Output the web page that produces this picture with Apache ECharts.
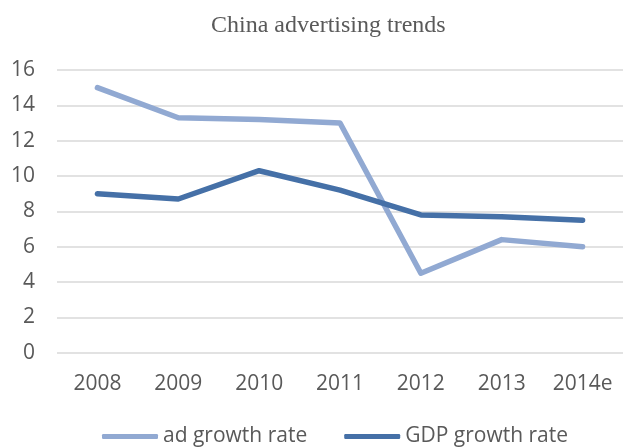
<!DOCTYPE html>
<html>
<head>
<meta charset="utf-8">
<script src="https://cdn.jsdelivr.net/npm/echarts@6/dist/echarts.min.js"></script>
<style>
html,body{margin:0;padding:0;background:#fff;}
#chart{width:623px;height:448px;}
</style>
</head>
<body>
<div id="chart"></div>
<script>
var years = ['2008', '2009', '2010', '2011', '2012', '2013', '2014e'];
var adGrowth = [15.0, 13.3, 13.2, 13.0, 4.5, 6.4, 6.0];
var gdpGrowth = [9.0, 8.7, 10.3, 9.2, 7.8, 7.7, 7.5];
var seriesNames = ['ad growth rate', 'GDP growth rate'];

var textColor = '#595959';
var font = '"Open Sans", "Noto Sans", sans-serif';

var chart = echarts.init(document.getElementById('chart'), null, {renderer: 'canvas'});
chart.setOption({
  animation: false,
  backgroundColor: '#ffffff',
  title: {
    text: 'China advertising trends',
    left: 211,
    top: 14,
    padding: 0,
    textStyle: {
      fontFamily: '"Liberation Serif", "DejaVu Serif", serif',
      fontWeight: 'normal',
      fontSize: 24,
      color: textColor
    }
  },
  grid: {
    left: 57,
    top: 70,
    width: 575,
    bottom: 95.3,
    containLabel: false
  },
  legend: {
    left: 102,
    top: 426,
    padding: 0,
    itemGap: 37,
    itemWidth: 56,
    itemHeight: 5,
    icon: 'roundRect',
    textStyle: {
      fontFamily: font,
      fontSize: 21,
      color: textColor,
      padding: [0, 0, 0, 0]
    },
    data: seriesNames
  },
  xAxis: {
    type: 'category',
    data: years,
    boundaryGap: true,
    axisLine: {show: false},
    axisTick: {show: false},
    axisLabel: {
      margin: 21,
      fontFamily: font,
      fontSize: 21,
      color: textColor
    }
  },
  yAxis: {
    type: 'value',
    min: 0,
    max: 16,
    interval: 2,
    axisLine: {show: false},
    axisTick: {show: false},
    axisLabel: {
      margin: 22,
      fontFamily: font,
      fontSize: 21,
      color: textColor
    },
    splitLine: {
      lineStyle: {color: '#d9d9d9', width: 1.5}
    }
  },
  series: [
    {
      name: seriesNames[0],
      type: 'line',
      data: adGrowth,
      symbol: 'none',
      showSymbol: false,
      color: '#91a9d2',
      lineStyle: {width: 5.5, color: '#91a9d2', cap: 'round', join: 'round'},
      itemStyle: {color: '#91a9d2'}
    },
    {
      name: seriesNames[1],
      type: 'line',
      data: gdpGrowth,
      symbol: 'none',
      showSymbol: false,
      color: '#4570a7',
      lineStyle: {width: 5.5, color: '#4570a7', cap: 'round', join: 'round'},
      itemStyle: {color: '#4570a7'}
    }
  ]
});
</script>
</body>
</html>
